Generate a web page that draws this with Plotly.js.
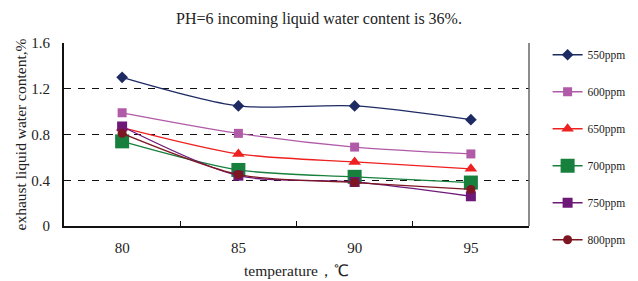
<!DOCTYPE html>
<html><head><meta charset="utf-8">
<script src="https://cdn.plot.ly/plotly-3.0.1.min.js"></script>
<style>body{margin:0;background:#fff}#c{width:638px;height:281px}</style>
</head><body><div id="c"></div>
<script>
const temperature = [80, 85, 90, 95];
const seriesNames = ["550ppm", "600ppm", "650ppm", "700ppm", "750ppm", "800ppm"];
const v550 = [1.30, 1.05, 1.05, 0.93];
const v600 = [0.99, 0.81, 0.69, 0.63];
const v650 = [0.86, 0.63, 0.56, 0.50];
const v700 = [0.74, 0.49, 0.43, 0.38];
const v750 = [0.87, 0.44, 0.385, 0.26];
const v800 = [0.81, 0.45, 0.38, 0.32];
const yTicks = [0, 0.4, 0.8, 1.2, 1.6];
const yTickText = ["0", "0.4", "0.8", "1.2", "1.6"];

const values = [v550, v600, v650, v700, v750, v800];
const colors = ["#1d2a64", "#b05aa8", "#ee2020", "#17803c", "#6e1878", "#7d1622"];
const symbols = ["diamond", "square", "triangle-up", "square", "square", "circle"];
const sizes = [9, 9, 11, 14, 10, 9];

const traces = values.map((v, i) => ({
  x: temperature, y: v, name: seriesNames[i], type: "scatter", mode: "lines+markers",
  line: {color: colors[i], width: 1.3, shape: "spline", smoothing: 0.8},
  marker: {color: colors[i], symbol: symbols[i], size: sizes[i]},
  legendgroup: "g" + i
}));

const layout = {
  width: 638, height: 281,
  margin: {l: 64, r: 109, t: 43, b: 55, autoexpand: false},
  paper_bgcolor: "#fff", plot_bgcolor: "#fff",
  font: {family: "Liberation Serif, Times New Roman, serif", color: "#222"},
  title: {text: "PH=6 incoming liquid water content is 36%.", x: 0.5, xref: "container", xanchor: "center", y: 0.955, yref: "container", font: {size: 16}},
  xaxis: {
    range: [77.5, 97.5], tickvals: temperature, ticktext: temperature.map(String),
    ticks: "", showgrid: false, zeroline: false,
    showline: true, linecolor: "#111", linewidth: 2,
    tickfont: {size: 15}, ticklabelstandoff: 7,
    minor: {tickvals: [82.5, 87.5, 92.5], ticks: "inside", ticklen: 5, tickcolor: "#111", tickwidth: 1.2, showgrid: false},
    title: {text: "temperature，℃", font: {size: 15.5}, standoff: 10}
  },
  yaxis: {
    range: [0, 1.6], tickvals: yTicks, ticktext: yTickText,
    showgrid: true, gridcolor: "#111", gridwidth: 1.2, griddash: "7px,7px",
    zeroline: false, showline: true, linecolor: "#111", linewidth: 2,
    ticks: "", tickfont: {size: 15}, ticklabelstandoff: 9,
    title: {text: "exhaust liquid water content,%", font: {size: 15.5}, standoff: 1}
  },
  shapes: [{type: "line", xref: "paper", yref: "paper", x0: 1, x1: 1, y0: 0, y1: 1, line: {color: "#666", width: 1.5}}],
  legend: {x: 1.04, y: 1.015, xanchor: "left", yanchor: "top", font: {size: 11.5}, tracegroupgap: 18, maxheight: 280, bgcolor: "rgba(0,0,0,0)"},
  showlegend: true
};
Plotly.newPlot("c", traces, layout, {displayModeBar: false, staticPlot: true});
</script></body></html>
